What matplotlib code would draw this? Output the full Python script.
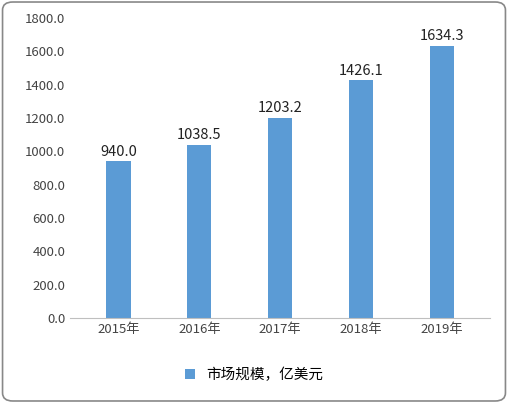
import matplotlib
matplotlib.use("Agg")
import matplotlib.pyplot as plt
from matplotlib.patches import FancyBboxPatch

plt.rcParams['font.family'] = ['Noto Sans CJK SC', 'DejaVu Sans']

categories = ["2015年", "2016年", "2017年", "2018年", "2019年"]
values = [940.0, 1038.5, 1203.2, 1426.1, 1634.3]
series_name = "市场规模，亿美元"

fig = plt.figure(figsize=(5.08, 4.03), dpi=100)
fig.patches.append(FancyBboxPatch((0.005, 0.005), 0.99, 0.99, boxstyle="round,pad=0,rounding_size=0.02",
                                  transform=fig.transFigure, fill=False, edgecolor="#888888", linewidth=1.2))
ax = fig.add_axes([0.138, 0.211, 0.827, 0.744])
x = range(len(categories))
bars = ax.bar(x, values, width=0.3, color="#5B9BD5", label=series_name)
for xi, v in zip(x, values):
    ax.text(xi, v + 15, f"{v:.1f}", ha="center", va="bottom", fontsize=10.5, color="#222222")
ax.set_xticks(list(x))
ax.set_xticklabels(categories, fontsize=9.5, color="#444444")
ax.set_ylim(0, 1800)
ax.set_yticks(range(0, 1801, 200))
ax.set_yticklabels([f"{t:.1f}" for t in range(0, 1801, 200)], fontsize=9.5, color="#444444")
ax.set_xlim(-0.6, 4.6)
for s in ["top", "right", "left"]:
    ax.spines[s].set_visible(False)
ax.spines["bottom"].set_color("#BFBFBF")
ax.tick_params(axis="both", length=0)
fig.legend(loc="lower center", bbox_to_anchor=(0.5, 0.02), frameon=False, fontsize=10.5,
           handlelength=0.7, handleheight=0.7)
fig.savefig("out.png", dpi=100)
